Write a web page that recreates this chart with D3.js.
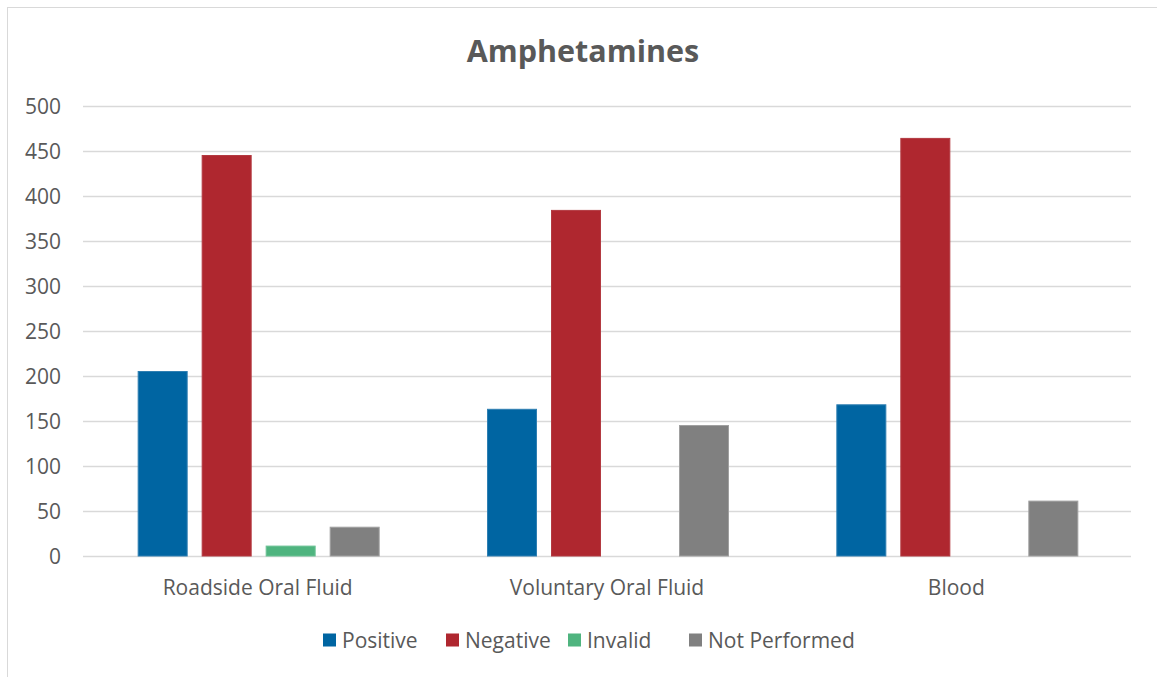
<!DOCTYPE html>
<html>
<head>
<meta charset="utf-8">
<script src="https://cdn.jsdelivr.net/npm/d3@7"></script>
<style>
  html, body { margin: 0; padding: 0; background: #fff; }
  svg { display: block; font-family: "Open Sans", sans-serif; }
</style>
</head>
<body>
<svg id="chart" width="1157" height="677"></svg>
<script>
// Sample types along the x axis
const categories = ["Roadside Oral Fluid", "Voluntary Oral Fluid", "Blood"];
// Result series
const seriesNames = ["Positive", "Negative", "Invalid", "Not Performed"];
const positive     = [205, 163, 168];
const negative     = [445, 384, 464];
const invalid      = [11, 0, 0];
const notPerformed = [32, 145, 61];
const yTicks = [0, 50, 100, 150, 200, 250, 300, 350, 400, 450, 500];
const title = "Amphetamines";

const seriesValues = [positive, negative, invalid, notPerformed];
const colors = ["#0065a2", "#af272f", "#4fb47f", "#808080"];
const strokes = ["#2f7fb2", "#b33a41", "#6cc295", "#a0a0a0"];
const font = "'Open Sans', sans-serif";
const textColor = "#595959";

const svg = d3.select("#chart");
const W = 1157, H = 677;
const plot = { left: 83, right: 1131, top: 106, bottom: 556 };

// Chart frame
svg.append("rect")
  .attr("x", 7.5).attr("y", 7.5)
  .attr("width", W).attr("height", H)
  .attr("fill", "#fff").attr("stroke", "#d9d9d9").attr("stroke-width", 1);

const x0 = d3.scaleBand().domain(categories).range([plot.left, plot.right]);
const groupW = 242;
const x1 = d3.scaleBand().domain(seriesNames)
  .range([(x0.bandwidth() - groupW) / 2 + 1, (x0.bandwidth() + groupW) / 2 + 1])
  .paddingInner(14 / 64).paddingOuter(0);
const y = d3.scaleLinear().domain([0, 500]).range([plot.bottom, plot.top]);

// Gridlines
svg.append("g").selectAll("line").data(yTicks).join("line")
  .attr("x1", plot.left).attr("x2", plot.right)
  .attr("y1", d => Math.round(y(d)) + 0.5).attr("y2", d => Math.round(y(d)) + 0.5)
  .attr("stroke", "#d9d9d9").attr("stroke-width", 1.5);

// Y axis labels
const yAxis = d3.axisLeft(y).tickValues(yTicks).tickSize(0).tickPadding(0);
const gy = svg.append("g").attr("transform", `translate(61,0)`).call(yAxis);
gy.select(".domain").remove();
gy.selectAll("text").attr("fill", textColor).style("font-size", "21px")
  .style("font-family", font).attr("dy", "0.35em");

// Bars
const rows = categories.map((c, i) => ({ c, vals: seriesNames.map((s, j) => ({ s, j, v: seriesValues[j][i] })) }));
const groups = svg.append("g").selectAll("g").data(rows).join("g")
  .attr("transform", d => `translate(${x0(d.c)},0)`);
groups.selectAll("rect").data(d => d.vals.filter(e => e.v > 0)).join("rect")
  .attr("x", d => x1(d.s) + 0.5)
  .attr("width", x1.bandwidth() - 1)
  .attr("y", d => y(d.v))
  .attr("height", d => y(0) - y(d.v))
  .attr("fill", d => colors[d.j])
  .attr("stroke", d => strokes[d.j]).attr("stroke-width", 1);

// X axis labels
const xAxis = d3.axisBottom(x0).tickSize(0).tickPadding(0);
const gx = svg.append("g").attr("transform", `translate(0,${plot.bottom + 31.5})`).call(xAxis);
gx.select(".domain").remove();
gx.selectAll("text").attr("fill", textColor).style("font-size", "21px")
  .style("font-family", font).attr("dy", "0.35em");

// Title
svg.append("text").attr("x", 583).attr("y", 61.5).attr("text-anchor", "middle")
  .attr("fill", textColor).style("font-size", "30.5px").style("font-weight", "bold")
  .text(title);

// Legend
const legendX = [323, 446, 568, 689];
const legend = svg.append("g").selectAll("g").data(seriesNames).join("g")
  .attr("transform", (d, i) => `translate(${legendX[i]},640.5)`);
legend.append("rect").attr("x", 0).attr("y", -7).attr("width", 13).attr("height", 13)
  .attr("fill", (d, i) => colors[i]);
legend.append("text").attr("x", 19).attr("y", 0).attr("dy", "0.35em")
  .attr("fill", textColor).style("font-size", "21px").text(d => d);
</script>
</body>
</html>
